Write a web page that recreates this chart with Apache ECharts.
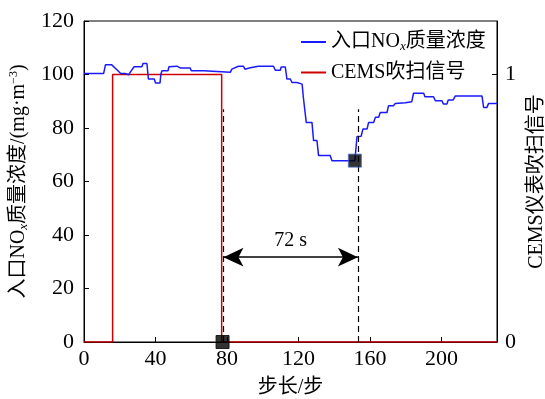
<!DOCTYPE html>
<html>
<head>
<meta charset="utf-8">
<script src="https://cdn.jsdelivr.net/npm/echarts@6/dist/echarts.min.js"></script>
<style>html,body{margin:0;padding:0;background:#fff}#c{width:545px;height:399px}</style>
</head>
<body>
<div id="c"></div>
<script>
// ---- data ----
const stepX = [0,11,12,15.5,16.5,19,20.5,23,24,25,26,27,28,32.4,33,35.2,36,39.3,40,42.5,43,43.6,47,47.5,52,54,59.4,60,66.9,67.5,81.8,82.7,86.4,89.2,90,91.1,93,97.6,106,107,109.8,110.3,112.6,113.5,115.4,116.3,119.1,120,122,122.7,123.8,124.3,127.5,128,128.4,130.3,131.2,137.7,138.7,151.5,152.7,155,156,158.3,159.2,162,163,164.8,165.7,169.5,170.3,173.1,174.1,179.7,180.5,183.3,184.3,190,190.7,195.5,196.5,200.2,201,203,203.7,206.5,207.7,222.6,223.5,225.4,226.3,231];
const noxY  = [100.4,100.4,103.6,103.6,102.9,101.4,100.4,100.4,99.9,99.9,101,101.6,102.9,102.9,104.1,104.1,98.3,98.3,96.8,96.8,100.1,101.4,101.4,102.9,103.1,102.4,102.4,101.4,101.4,100.8,100.8,102,103.1,103.1,102,101.4,102.5,103.1,103.1,101.6,101.6,102.8,102.8,98.3,98.3,97,97,96.4,96.4,91.4,91.4,82.1,82.1,78.4,75.3,75.3,69.7,69.7,67.8,67.8,76.8,76.9,79.6,79.6,82.1,82.1,84,84,85.8,85.8,88.3,88.3,89.2,89.4,89.8,89.8,93,93,91.7,91.7,90.2,90.2,89,89,90.5,90.5,92,92,87.7,87.7,89.2,89.2];
const signalX = [0,16,16,77,77,231];
const signalY = [0,0,1,1,0,0];
const startMarker = [77.5, 0];
const endMarker = [151.5, 67.8];
const dashX = [78, 153.2];
const dashTop = 87;
const arrowY = 31.7;
const delayLabel = '72 s';
const seriesNames = ['入口NOx质量浓度', 'CEMS吹扫信号'];
const yTicksLeft = [0, 120, 20];
const yTicksRight = [0, 1.2, 1];
const xRange = [0, 231, 40];

const FONT = '"Liberation Serif","Noto Sans CJK SC",serif';
const chart = echarts.init(document.getElementById('c'), null, {renderer: 'canvas'});
const axisBase = {
  axisLine: {show: true, lineStyle: {color: '#000', width: 1}},
  axisTick: {show: true, inside: true, length: 5, lineStyle: {color: '#000'}},
  splitLine: {show: false},
  axisLabel: {color: '#000', fontFamily: FONT, fontSize: 22}
};
chart.setOption({
  animation: false,
  grid: {left: 84, right: 48, top: 21, bottom: 57, show: true, borderColor: '#000', borderWidth: 1,
         containLabel: false, outerBoundsMode: 'none'},
  legend: {
    orient: 'vertical', left: 296, top: 27, itemGap: 9, itemWidth: 25, itemHeight: 2,
    icon: 'rect',
    data: seriesNames,
    formatter: n => n === seriesNames[0] ? '入口NO{sub|x}质量浓度' : n,
    textStyle: {fontFamily: FONT, fontSize: 20, color: '#000',
      rich: {sub: {fontFamily: FONT, fontSize: 13, fontStyle: 'italic', verticalAlign: 'bottom', padding: [10,0,0,0]}}}
  },
  xAxis: Object.assign({}, axisBase, {
    type: 'value', min: xRange[0], max: xRange[1], interval: xRange[2],
    name: '步长/步', nameLocation: 'middle', nameGap: 36,
    nameTextStyle: {fontFamily: FONT, fontSize: 20, color: '#000'},
    axisLabel: Object.assign({}, axisBase.axisLabel, {margin: 6, showMaxLabel: false})
  }),
  yAxis: [
    Object.assign({}, axisBase, {
      type: 'value', min: yTicksLeft[0], max: yTicksLeft[1], interval: yTicksLeft[2], position: 'left',
      name: '入口NO{sub|x}质量浓度/(mg·m{sup|−3})', nameLocation: 'middle', nameGap: 50, nameRotate: 90,
      nameTextStyle: {fontFamily: FONT, fontSize: 20, color: '#000',
        rich: {sub: {fontFamily: FONT, fontSize: 13, fontStyle: 'italic', padding: [10,0,0,0]},
               sup: {fontFamily: FONT, fontSize: 12, padding: [0,0,10,0]}}},
      axisLabel: Object.assign({}, axisBase.axisLabel, {margin: 10})
    }),
    Object.assign({}, axisBase, {
      type: 'value', min: yTicksRight[0], max: yTicksRight[1], interval: yTicksRight[2], position: 'right',
      name: 'CEMS仪表吹扫信号', nameLocation: 'middle', nameGap: 30, nameRotate: 90,
      nameTextStyle: {fontFamily: FONT, fontSize: 20, color: '#000'},
      axisLabel: Object.assign({}, axisBase.axisLabel, {margin: 8, showMaxLabel: false})
    })
  ],
  series: [
    {
      name: seriesNames[1], type: 'line', yAxisIndex: 1, symbol: 'none', z: 2,
      lineStyle: {color: '#d00000', width: 1.5}, itemStyle: {color: '#d00000'},
      data: signalX.map((x, i) => [x, signalY[i]])
    },
    {
      name: seriesNames[0], type: 'line', yAxisIndex: 0, symbol: 'none', z: 3,
      lineStyle: {color: '#1a1aff', width: 1.5}, itemStyle: {color: '#1a1aff'},
      data: stepX.map((x, i) => [x, noxY[i]]),
      markLine: {
        silent: true, symbol: 'none',
        lineStyle: {color: '#000', type: [6, 4], width: 1.2},
        label: {show: false},
        data: [
          [{coord: [dashX[0], 0]}, {coord: [dashX[0], dashTop]}],
          [{coord: [dashX[1], 0]}, {coord: [dashX[1], dashTop]}],
          [{coord: [dashX[0], arrowY], symbol: 'arrow', symbolSize: [14, 20]},
           {coord: [dashX[1], arrowY], symbol: 'arrow', symbolSize: [14, 20],
            lineStyle: {type: 'solid', width: 1.5, color: '#000'},
            label: {show: true, position: 'middle', formatter: delayLabel, color: '#000', fontFamily: FONT, fontSize: 20, distance: 6}}]
        ]
      }
    },
    {
      name: 'markers', type: 'scatter', yAxisIndex: 0, symbol: 'rect', symbolSize: 13, z: 5,
      itemStyle: {color: '#000', borderColor: '#4a6fc9', borderWidth: 1},
      data: [{value: startMarker, itemStyle: {borderColor: '#000'}}, {value: endMarker}]
    }
  ]
});
</script>
</body>
</html>
